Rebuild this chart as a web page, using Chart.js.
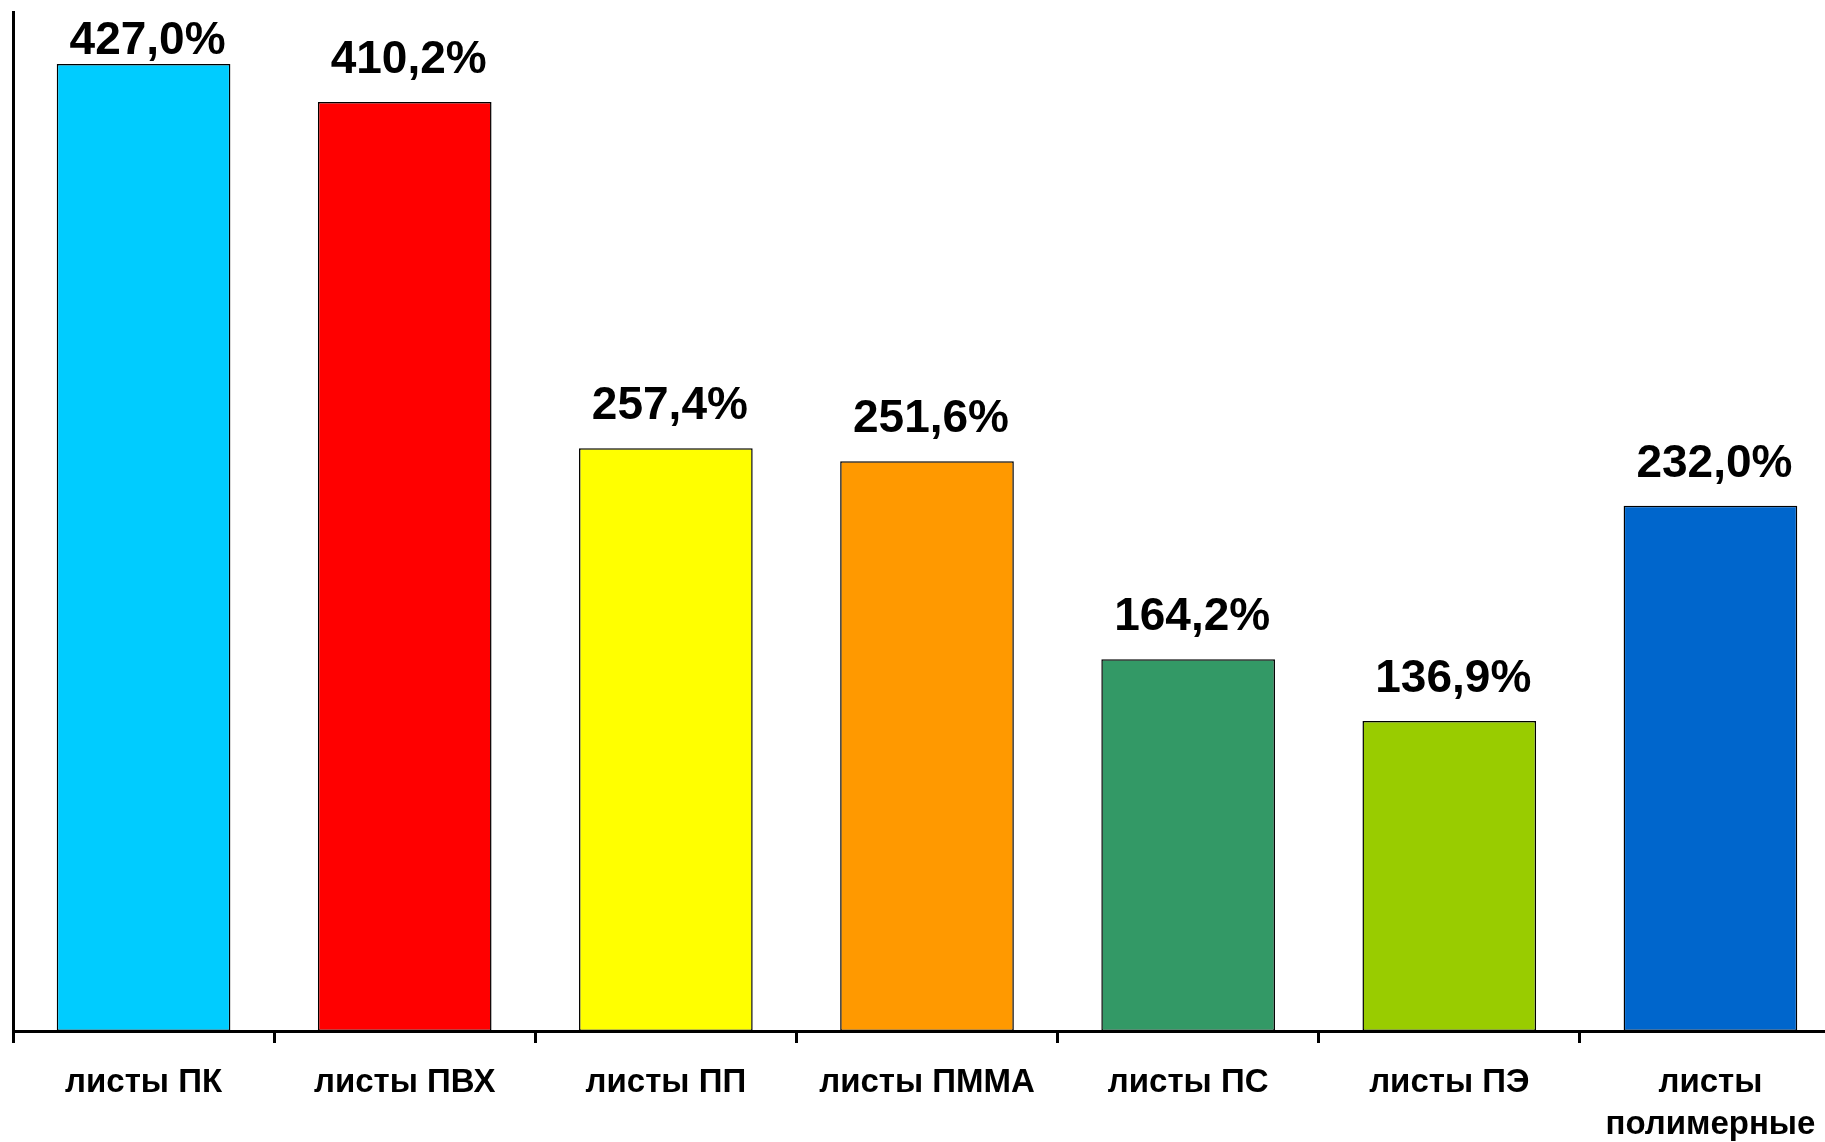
<!DOCTYPE html>
<html>
<head>
<meta charset="utf-8">
<script src="https://cdn.jsdelivr.net/npm/chart.js@4.4.1/dist/chart.umd.min.js"></script>
<style>
    html, body { margin: 0; padding: 0; background: #fff; overflow: hidden; }
    #wrap { width: 1841px; height: 1142px; position: relative; }
</style>
</head>
<body>
<div id="wrap"><canvas id="chartCanvas"></canvas></div>
<script>
// categories and values
const categories = [
    'листы ПК',
    'листы ПВХ',
    'листы ПП',
    'листы ПММА',
    'листы ПС',
    'листы ПЭ',
    ['листы', 'полимерные']
];
const values = [427.0, 410.2, 257.4, 251.6, 164.2, 136.9, 232.0];
const barColors = ['#00CCFF', '#FF0000', '#FFFF00', '#FF9900', '#339966', '#99CC00', '#0066CC'];

const FONT = '"Liberation Sans", Arial, Helvetica, sans-serif';

// draw the value above every bar (comma as decimal separator)
const valueLabels = {
    id: 'valueLabels',
    afterDatasetsDraw(chart) {
        const ctx = chart.ctx;
        const meta = chart.getDatasetMeta(0);
        ctx.save();
        ctx.font = 'bold 46px ' + FONT;
        ctx.fillStyle = '#000';
        ctx.textAlign = 'center';
        ctx.textBaseline = 'alphabetic';
        meta.data.forEach((bar, i) => {
            const text = values[i].toFixed(1).replace('.', ',') + '%';
            // keep the label inside the plot when the bar is too tall
            const y = Math.max(bar.y - 29, chart.chartArea.top + 42);
            ctx.fillText(text, bar.x + 4, y);
        });
        ctx.restore();
    }
};

new Chart(document.getElementById('chartCanvas'), {
    type: 'bar',
    data: {
        labels: categories,
        datasets: [{
            data: values,
            backgroundColor: barColors,
            borderColor: '#000',
            borderWidth: 1.5,
            borderSkipped: false,
            categoryPercentage: 1,
            barPercentage: 0.665
        }]
    },
    options: {
        responsive: true,
        maintainAspectRatio: false,
        animation: false,
        layout: { padding: { top: 12, left: 13, right: 0, bottom: 0 } },
        plugins: {
            legend: { display: false },
            tooltip: { enabled: false }
        },
        scales: {
            x: {
                grid: {
                    offset: true,
                    drawOnChartArea: false,
                    drawTicks: true,
                    tickLength: 12,
                    color: '#000',
                    lineWidth: 3
                },
                border: { display: true, color: '#000', width: 3 },
                ticks: {
                    color: '#000',
                    padding: 18,
                    font: { family: FONT, size: 33, weight: 'bold', lineHeight: 1.3 },
                    maxRotation: 0,
                    autoSkip: false
                },
                afterFit(scale) { scale.height = 111; }
            },
            y: {
                min: 0,
                max: 450,
                grid: { display: false, drawTicks: false },
                border: { display: true, color: '#000', width: 3 },
                ticks: { display: false },
                afterFit(scale) { scale.width = 0; }
            }
        }
    },
    plugins: [valueLabels]
});
</script>
</body>
</html>
